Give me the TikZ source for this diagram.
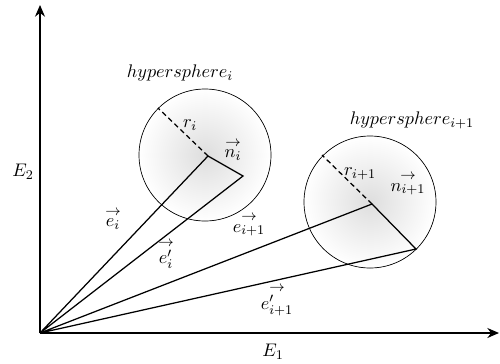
\documentclass[tikz,border=0pt]{standalone}
\usetikzlibrary{arrows.meta}
\newcommand\myvec[1]{\stackrel{\hbox{\fontsize{9}{10}\selectfont$\rightarrow$}}{#1}}
\begin{document}
\begin{tikzpicture}[x=0.6pt,y=-0.6pt,
  vec/.style={line width=0.75pt},
  axis/.style={line width=0.9pt,-{Stealth[length=7pt,width=6pt]}},
  sphere/.style={inner color=black!13,outer color=white},
  lbl/.style={inner sep=0pt,font=\fontsize{11}{13}\selectfont}]
\useasboundingbox (0,0) rectangle (500,363);
% spheres
\coordinate (ci) at (205,155);
\coordinate (cj) at (370,202);
\fill[sphere] (ci) circle[radius=66];
\draw[line width=0.4pt] (ci) circle[radius=66];
\fill[sphere] (cj) circle[radius=66];
\draw[line width=0.4pt] (cj) circle[radius=66];
% points
\coordinate (O) at (40,333);
\coordinate (Pi) at (208,156);
\coordinate (Qi) at (243,176);
\coordinate (Pj) at (372,204);
\coordinate (Qj) at (416,249);
\coordinate (Ri) at (158,108);
\coordinate (Rj) at (322,155);
\coordinate (Ytop) at (40,5);
\coordinate (Xend) at (499,333);
% axes
\draw[axis] (O) -- (Ytop);
\draw[axis] (O) -- (Xend);
% vectors
\draw[vec] (O) -- (Pi) -- (Qi) -- (O);
\draw[vec] (O) -- (Pj) -- (Qj) -- (O);
\draw[vec,dash pattern=on 3pt off 2pt] (Pi) -- (Ri);
\draw[vec,dash pattern=on 3pt off 2pt] (Pj) -- (Rj);
% labels
\node[lbl] (hi) at (180,73) {$hypersphere_i$};
\node[lbl] (hj) at (412,120) {$hypersphere_{i+1}$};
\node[lbl] (ri) at (190,125) {$r_i$};
\node[lbl] (rj) at (360,174) {$r_{i+1}$};
\node[lbl] (ni) at (233,150) {$\myvec{n_i}$};
\node[lbl] (nj) at (408,184) {$\myvec{n_{i+1}}$};
\node[lbl] (E2) at (23,172) {$E_2$};
\node[lbl] (E1) at (273,352) {$E_1$};
\node[lbl] (ei) at (113,219) {$\myvec{e_i}$};
\node[lbl] (epi) at (166,254) {$\myvec{e'_i}$};
\node[lbl] (ej) at (249,225) {$\myvec{e_{i+1}}$};
\node[lbl] (epj) at (277,300) {$\myvec{e'_{i+1}}$};
\end{tikzpicture}
\end{document}
